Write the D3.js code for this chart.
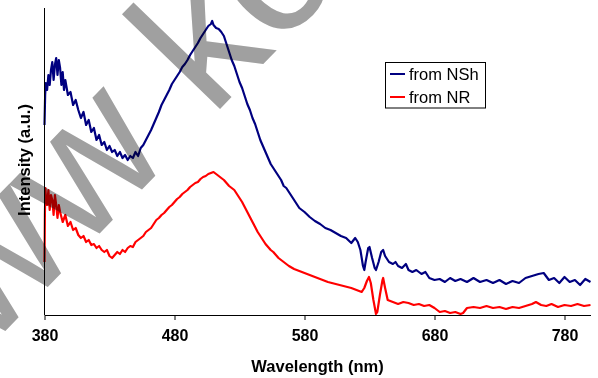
<!DOCTYPE html>
<html>
<head>
<meta charset="utf-8">
<script src="https://cdn.jsdelivr.net/npm/d3@7"></script>
<style>
  body { margin: 0; background: #fff; }
  svg { display: block; font-family: Arial, "Liberation Sans", sans-serif; }
</style>
</head>
<body>
<svg id="chart" width="598" height="378"></svg>
<script>
// spectra, intensity in arbitrary units
const nshWave = [380,380.5,381,382,383,384,385,386,387,388,389,390,391,392,393,394,395,396,398,400,
  402,404,406,408,410,412,414,416,418,420,422,424,426,428,430,432,434,436,438,440,
  442,444,446,448,450,452,454,456,458,460,462,464,466,468,470,472,474,476,478,480,
  482,484,486,488,490,492,494,496,498,500,502,504,506,508,509,510,512,514,516,518,
  520,522,524,526,528,530,532,534,536,538,540,542,544,546,548,550,552,554,556,558,
  560,562,564,566,568,570,572,574,576,578,580,584,588,592,596,600,604,608,612,616,
  619,621,623,625,626,627,629,630,632,634,635,637,639,640.5,642,645,648,650,652,655,
  658,660,663,666,670,673,676,680,684,688,692,696,700,705,710,715,720,725,730,735,
  740,745,750,755,760,764,768,772,776,780,784,788,792,796,800];
const nshInt = [190,220,232,225,240,230,245,253,235,250,257,240,255,247,230,243,225,235,220,223,
  210,215,205,197,203,190,195,183,187,175,180,170,173,165,169,163,165,159,163,157,
  160,155,159,157,163,159,167,170,175,180,185,191,197,203,210,215,220,225,231,235,
  239,243,248,251,255,260,264,268,272,277,281,285,289,291,294,290,287,286,283,279,
  271,263,255,249,241,233,227,219,211,205,197,191,183,175,169,163,157,151,147,143,
  139,135,129,127,123,119,115,111,107,105,103,98,94,91,87,85,82,79,77,72,
  77,73,65,49,45,53,67,68,57,47,45,53,63,65,59,53,51,53,49,47,
  51,45,43,45,41,43,37,35,36,33,37,34,36,33,37,33,35,32,35,31,
  34,32,37,39,41,42,35,37,32,38,33,35,30,36,33];

const nrWave = [380,380.3,380.7,381,382,383,384,385,386,387,388,389,390,391,392,394,396,398,400,402,
  404,406,408,410,412,414,416,418,420,422,424,426,428,430,432,434,436,438,440,442,
  444,446,448,450,452,454,456,458,460,462,464,466,468,470,472,474,476,478,480,482,
  484,486,488,490,492,494,496,498,500,502,504,506,508,510,512,514,516,518,520,522,
  524,526,528,530,532,534,536,538,540,542,544,546,548,550,552,554,556,558,560,564,
  568,572,576,580,586,592,598,604,610,616,620,624,626,628,629.6,631,633,635,636,638,
  640,640.5,642,644,648,652,656,660,664,668,672,676,680,684,688,692,696,700,702,705,
  710,715,720,725,730,735,740,745,750,755,758,762,766,770,775,780,785,790,795,800];
const nrInt = [53,100,127,120,110,125,105,120,115,100,120,110,97,110,103,93,100,89,93,85,
  87,80,77,79,73,75,70,71,67,69,65,63,65,59,57,60,63,61,65,63,
  67,69,68,73,75,77,79,83,85,87,91,95,97,100,102,105,108,110,113,116,
  118,121,123,125,128,130,132,133,136,138,139,141,142,143,141,139,137,135,132,129,
  127,125,121,117,113,108,103,98,93,88,83,79,75,71,68,65,63,60,57,53,
  49,46,44,42,39,36,33,31,29,27,25,23,27,34,38,32,15,1,3,20,
  35,37,27,15,13,11,13,12,10,11,9,10,7,3,4,2,3,1,2,7,
  8,7,9,7,8,6,8,7,9,11,13,10,9,11,8,10,9,11,9,10];

const seriesNames = ["from NSh", "from NR"];
const seriesColors = ["#000080", "#ff0000"];
const xTicks = [380, 480, 580, 680, 780];

const svg = d3.select("#chart");
const plotLeft = 44.5, plotRight = 590.5, plotTop = 8, plotBottom = 315;

const x = d3.scaleLinear().domain([380, 800]).range([plotLeft, plotRight]);
const y = d3.scaleLinear().domain([0, 307]).range([plotBottom, plotTop]);

const line = d3.line()
  .x(d => x(d[0]))
  .y(d => y(d[1]));

const series = [
  d3.zip(nshWave, nshInt),
  d3.zip(nrWave, nrInt)
];

const plot = svg.append("g");
series.forEach((s, i) => {
  plot.append("path")
    .datum(s)
    .attr("fill", "none")
    .attr("stroke", seriesColors[i])
    .attr("stroke-width", 2.2)
    .attr("stroke-linejoin", "round")
    .attr("d", line);
});

// axes
svg.append("line")
  .attr("x1", plotLeft).attr("x2", plotLeft)
  .attr("y1", plotTop).attr("y2", plotBottom)
  .attr("stroke", "#000");

const xAxis = svg.append("g")
  .attr("transform", `translate(0,${plotBottom})`)
  .call(d3.axisBottom(x).tickValues(xTicks).tickSize(5).tickSizeOuter(0).tickPadding(10));
xAxis.select(".domain").attr("stroke", "#000");
xAxis.selectAll("text")
  .attr("font-size", 16)
  .attr("font-weight", "bold")
  .attr("font-family", "Arial, 'Liberation Sans', sans-serif")
  .attr("fill", "#000");

svg.append("text")
  .attr("x", 317.5).attr("y", 372)
  .attr("text-anchor", "middle")
  .attr("font-size", 16.5)
  .attr("font-weight", "bold")
  .text("Wavelength (nm)");

svg.append("text")
  .attr("transform", "translate(30,160) rotate(-90)")
  .attr("text-anchor", "middle")
  .attr("font-size", 16.5)
  .attr("font-weight", "bold")
  .text("Intensity (a.u.)");

// legend
const legend = svg.append("g");
legend.append("rect")
  .attr("x", 385.5).attr("y", 62.5)
  .attr("width", 100).attr("height", 45.5)
  .attr("fill", "#fff")
  .attr("stroke", "#000");
seriesNames.forEach((name, i) => {
  const ly = 74 + i * 23;
  legend.append("line")
    .attr("x1", 390).attr("x2", 405)
    .attr("y1", ly).attr("y2", ly)
    .attr("stroke", seriesColors[i])
    .attr("stroke-width", 2);
  legend.append("text")
    .attr("x", 409).attr("y", ly + 6)
    .attr("font-size", 16.5)
    .text(name);
});

// watermark across the plot
svg.append("text")
  .attr("transform", "translate(-108,448.5) rotate(-46)")
  .attr("font-size", 188)
  .attr("font-family", "Arial, 'Liberation Sans', sans-serif")
  .attr("fill", "#a0a0a0")
  .style("mix-blend-mode", "multiply")
  .text("www kc");
</script>
</body>
</html>
